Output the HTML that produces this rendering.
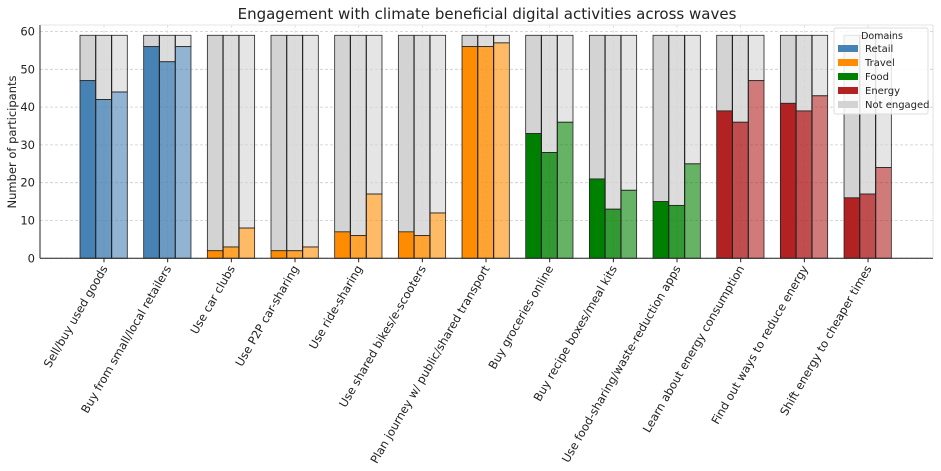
<!DOCTYPE html>
<html><head><meta charset="utf-8">
<style>
body{margin:0;background:#fff;font-family:"Liberation Sans","DejaVu Sans",sans-serif;}
svg text{font-family:"DejaVu Sans","Liberation Sans",sans-serif;fill:#222;}
</style></head>
<body>
<svg id="chart" width="941" height="466" xmlns="http://www.w3.org/2000/svg">
<text x="487" y="19" text-anchor="middle" font-size="15">Engagement with climate beneficial digital activities across waves</text>
<text transform="translate(16,142) rotate(-90)" text-anchor="middle" font-size="11.5">Number of participants</text>
<g id="grid"></g><g id="bars"></g><g id="axes"></g><g id="legend"></g>
</svg>
<script>
const categories=["Sell/buy used goods","Buy from small/local retailers","Use car clubs","Use P2P car-sharing","Use ride-sharing","Use shared bikes/e-scooters","Plan journey w/ public/shared transport","Buy groceries online","Buy recipe boxes/meal kits","Use food-sharing/waste-reduction apps","Learn about energy consumption","Find out ways to reduce energy","Shift energy to cheaper times"];
const domains=["Retail","Retail","Travel","Travel","Travel","Travel","Travel","Food","Food","Food","Energy","Energy","Energy"];
const wave1=[47,56,2,2,7,7,56,33,21,15,39,41,16];
const wave2=[42,52,3,2,6,6,56,28,13,14,36,39,17];
const wave3=[44,56,8,3,17,12,57,36,18,25,47,43,24];
const totals=[59,59,59,59,59,59,59,59,59,59,59,59,59];
const yTicks=[0,10,20,30,40,50,60];
const NS="http://www.w3.org/2000/svg";
const colors={Retail:"#4682b4",Travel:"#ff8c00",Food:"#008000",Energy:"#b22222"};
const alphas=[1,0.8,0.6];
const X0=40,X1=933,Y0=258.3,PX=3.78;
const y=v=>Y0-v*PX;
const gx=i=>104+i*63.67;
function mk(tag,a,p){const e=document.createElementNS(NS,tag);for(const k in a)e.setAttribute(k,a[k]);p.appendChild(e);return e;}
const grid=document.getElementById('grid'),bars=document.getElementById('bars'),axes=document.getElementById('axes'),leg=document.getElementById('legend');
yTicks.forEach(t=>{
 const l=mk('line',{x1:X0,x2:X1,y1:y(t),y2:y(t),stroke:"#ccc","stroke-dasharray":"3,2","stroke-width":0.8},grid);
 
 
 const tx=mk('text',{x:X0-5,y:y(t)+4,"text-anchor":"end","font-size":11.5},axes);tx.textContent=t;
 
 
});
categories.forEach((c,i)=>{
 mk('line',{x1:gx(i),x2:gx(i),y1:25,y2:Y0,stroke:"#ddd","stroke-dasharray":"3,2","stroke-width":0.8},grid);
 [wave1,wave2,wave3].forEach((w,k)=>{
  const bx=gx(i)-24+k*15.9, bw=15.5, v=w[i], tot=totals[i];
  const ng=mk('rect',{x:bx,y:y(tot),width:bw,height:(tot-v)*PX,fill:"#d3d3d3","fill-opacity":alphas[k],stroke:"#222","stroke-width":0.8},bars);
  
  
  const r=mk('rect',{x:bx,y:y(v),width:bw,height:v*PX,fill:colors[domains[i]],"fill-opacity":alphas[k],stroke:"#222","stroke-width":0.8},bars);
  
  
 });
 const tx=mk('text',{transform:`translate(${gx(i)+4},${Y0+10}) rotate(-60)`,"text-anchor":"end","font-size":11.5},axes);
 tx.textContent=c;
 
 
 mk('line',{x1:gx(i),x2:gx(i),y1:Y0,y2:Y0+4,stroke:"#222"},axes);
});
mk('line',{x1:X0,x2:X0,y1:25,y2:Y0,stroke:"#222"},axes);
mk('line',{x1:X0,x2:X1,y1:Y0,y2:Y0,stroke:"#222"},axes);
mk('line',{x1:X0,x2:X1,y1:25,y2:25,stroke:"#ccc","stroke-width":0.6},axes);
mk('line',{x1:X1,x2:X1,y1:25,y2:Y0,stroke:"#ccc","stroke-width":0.6},axes);
mk('rect',{x:834,y:28,width:94,height:86,fill:"#fff","fill-opacity":0.85,stroke:"#ddd",rx:2},leg);
const lt=mk('text',{x:882,y:39,"text-anchor":"middle","font-size":9.5},leg);lt.textContent="Domains";
const items=[["Retail","#4682b4"],["Travel","#ff8c00"],["Food","#008000"],["Energy","#b22222"],["Not engaged","#d3d3d3"]];
items.forEach((it,j)=>{
 const g=mk('g',{},leg);
 
 
 mk('rect',{x:838,y:45+j*14,width:20,height:7,fill:it[1]},g);
 const t=mk('text',{x:865,y:52+j*14,"font-size":10},g);t.textContent=it[0];
});
</script>
</body></html>
